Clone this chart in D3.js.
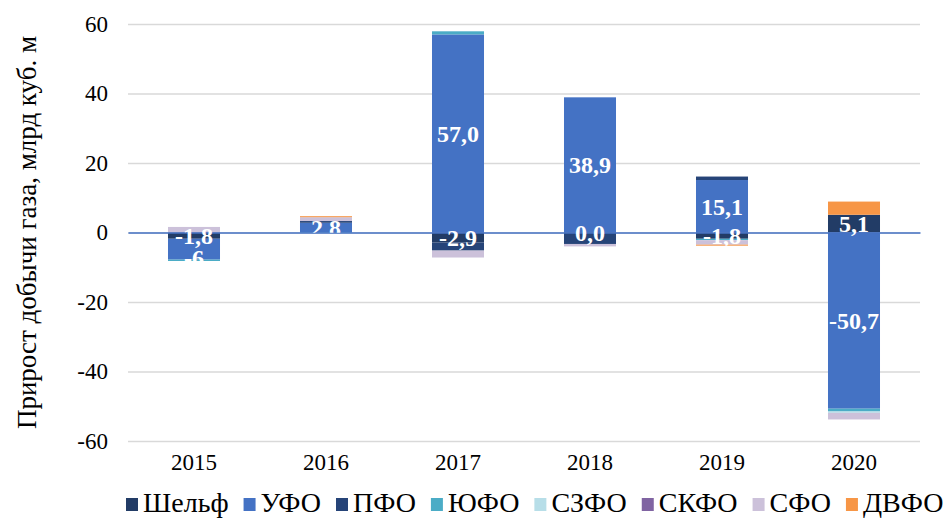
<!DOCTYPE html>
<html>
<head>
<meta charset="utf-8">
<script src="https://cdn.jsdelivr.net/npm/d3@7"></script>
<style>
  body { margin: 0; background: #fff; }
  svg { display: block; }
</style>
</head>
<body>
<div id="chart"></div>
<script>
// Данные
const years = ["2015", "2016", "2017", "2018", "2019", "2020"];
const seriesNames = ["Шельф", "УФО", "ПФО", "ЮФО", "СЗФО", "СКФО", "СФО", "ДВФО"];
const seriesColors = ["#223c66", "#4472c4", "#264478", "#4bacc6", "#b7dee8", "#8064a2", "#ccc1da", "#f79646"];

const shelf = [-1.8, 0.0, -2.9, 0.0, -1.8, 5.1];
const ufo   = [-6.0, 2.8, 57.0, 38.9, 15.1, -50.7];
const pfo   = [0.0, 0.5, -2.3, -3.3, 1.0, 0.0];
const yufo  = [-0.4, -0.1, 0.9, 0.0, -0.4, -0.8];
const szfo  = [0.0, 0.0, 0.0, 0.0, 0.0, -0.4];
const skfo  = [0.0, 0.0, 0.0, 0.0, 0.0, 0.0];
const sfo   = [1.6, 1.1, -2.0, -0.7, -1.3, -1.9];
const dvfo  = [0.0, 0.3, 0.0, 0.0, -0.3, 3.8];

const shelfLabels = ["-1,8", "", "-2,9", "0,0", "-1,8", "5,1"];
const ufoLabels   = ["-6", "2,8", "57,0", "38,9", "15,1", "-50,7"];
const yTicks = [-60, -40, -20, 0, 20, 40, 60];

const WIDTH = 951, HEIGHT = 519;
const plot = { left: 128, right: 920, top: 24, bottom: 441 };
const FONT = "Liberation Serif";

const svg = d3.select("#chart").append("svg")
    .attr("width", WIDTH)
    .attr("height", HEIGHT);

// Таблица для стека
const allSeries = [shelf, ufo, pfo, yufo, szfo, skfo, sfo, dvfo];
const table = years.map((y, i) => {
    const row = { year: y };
    seriesNames.forEach((s, k) => { row[s] = allSeries[k][i]; });
    return row;
});

const stacked = d3.stack()
    .keys(seriesNames)
    .order(d3.stackOrderNone)
    .offset(d3.stackOffsetDiverging)(table);

const x = d3.scaleBand()
    .domain(years)
    .range([plot.left, plot.right])
    .paddingInner(0.606)
    .paddingOuter(0.303);

const y = d3.scaleLinear()
    .domain([-60, 60])
    .range([plot.bottom, plot.top]);

// Сетка
svg.append("g")
    .attr("transform", `translate(${plot.left},0)`)
    .call(d3.axisLeft(y).tickValues(yTicks).tickSize(-(plot.right - plot.left)).tickFormat(""))
    .call(g => g.select(".domain").remove())
    .call(g => g.selectAll(".tick line").attr("stroke", "#d9d9d9").attr("stroke-width", 1.3));

// Подписи оси Y
svg.append("g")
    .attr("transform", `translate(${plot.left},0)`)
    .call(d3.axisLeft(y).tickValues(yTicks).tickSize(0).tickPadding(20).tickFormat(d => d))
    .call(g => g.select(".domain").remove())
    .call(g => g.selectAll("text")
        .style("font-family", FONT)
        .style("font-size", "23px")
        .attr("fill", "#000"));

// Столбцы
svg.append("g").selectAll("g")
    .data(stacked)
    .join("g")
    .attr("fill", (d, i) => seriesColors[i])
    .selectAll("rect")
    .data(d => d)
    .join("rect")
    .attr("x", d => x(d.data.year))
    .attr("width", x.bandwidth())
    .attr("y", d => y(Math.max(d[0], d[1])))
    .attr("height", d => Math.abs(y(d[0]) - y(d[1])));

// Линия нуля
svg.append("g")
    .attr("transform", `translate(0,${y(0)})`)
    .call(d3.axisBottom(x).tickSize(0).tickFormat(""))
    .call(g => g.select(".domain").attr("stroke", "#4472c4").attr("stroke-width", 1.5));

// Подписи оси X
svg.append("g")
    .attr("transform", `translate(0,${plot.bottom})`)
    .call(d3.axisBottom(x).tickSize(0).tickPadding(13))
    .call(g => g.select(".domain").remove())
    .call(g => g.selectAll("text")
        .style("font-family", FONT)
        .style("font-size", "23px")
        .attr("fill", "#000"));

// Обрезка подписей по границам столбца
const defs = svg.append("defs");
years.forEach((yr, i) => {
    const lo = d3.min(stacked, s => Math.min(s[i][0], s[i][1]));
    const hi = d3.max(stacked, s => Math.max(s[i][0], s[i][1]));
    defs.append("clipPath").attr("id", "col-" + yr)
        .append("rect")
        .attr("x", x(yr) - 40)
        .attr("width", x.bandwidth() + 80)
        .attr("y", y(hi) - 20)
        .attr("height", y(lo) - y(hi) + 20);
});

// Подписи значений
const labelSets = [
    { layer: stacked[0], texts: shelfLabels, shift: () => 0 },
    { layer: stacked[1], texts: ufoLabels,
      // сдвиг вниз, если подпись налезает на подпись шельфа
      shift: (d, i) => {
          const s = stacked[0][i];
          const gap = Math.abs(y((d[0] + d[1]) / 2) - y((s[0] + s[1]) / 2));
          return shelfLabels[i] && gap < 18 ? 8 : 0;
      } }
];
labelSets.forEach(set => {
    svg.append("g").selectAll("text")
        .data(set.layer)
        .join("text")
        .attr("clip-path", d => `url(#col-${d.data.year})`)
        .attr("x", d => x(d.data.year) + x.bandwidth() / 2)
        .attr("y", (d, i) => y((d[0] + d[1]) / 2) + set.shift(d, i))
        .attr("dy", "0.35em")
        .attr("text-anchor", "middle")
        .style("font-family", FONT)
        .style("font-weight", "bold")
        .style("font-size", "24px")
        .attr("fill", "#fff")
        .text((d, i) => set.texts[i]);
});

// Название оси Y
svg.append("text")
    .attr("transform", `translate(36,${(plot.top + plot.bottom) / 2}) rotate(-90)`)
    .attr("text-anchor", "middle")
    .style("font-family", FONT)
    .style("font-size", "27px")
    .attr("fill", "#000")
    .text("Прирост добычи газа, млрд куб. м");

// Легенда
const legend = svg.append("g").attr("transform", "translate(0,502)");
let lx = 126;
seriesNames.forEach((name, i) => {
    legend.append("rect")
        .attr("x", lx)
        .attr("y", -4)
        .attr("width", 12)
        .attr("height", 13)
        .attr("fill", seriesColors[i]);
    const t = legend.append("text")
        .attr("x", lx + 17)
        .attr("y", 0)
        .attr("dy", "0.35em")
        .style("font-family", FONT)
        .style("font-size", "28px")
        .attr("fill", "#000")
        .text(name);
    lx += 17 + t.node().getComputedTextLength() + 15;
});
</script>
</body>
</html>
